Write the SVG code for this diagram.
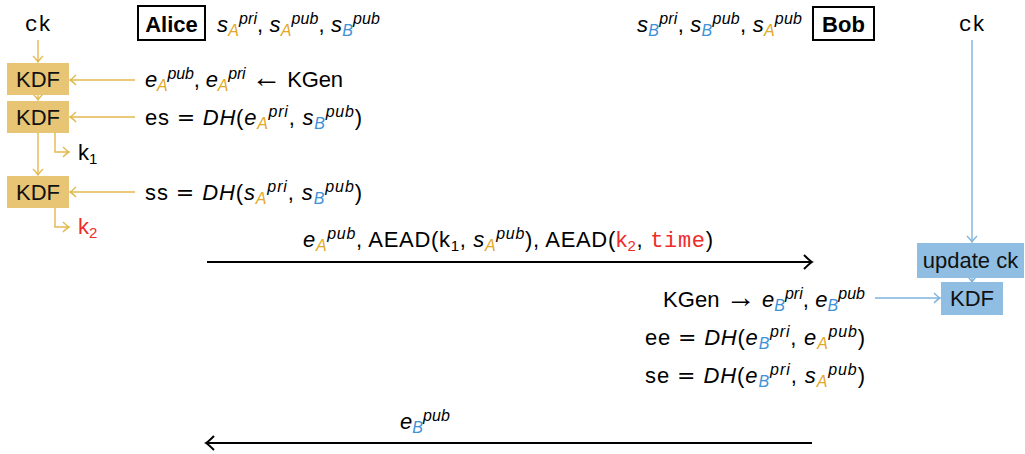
<svg xmlns="http://www.w3.org/2000/svg" width="1025" height="454" viewBox="0 0 1025 454">
  <style>
    .m { font-family: "Liberation Sans", Arial, sans-serif; font-size: 22px; fill: #000; }
    .tt { font-family: "Liberation Mono", "Courier New", monospace; }
    .op { font-family: "DejaVu Sans", sans-serif; }
    .arr { font-family: "Liberation Sans", Arial, sans-serif; font-size: 30px; }
    .v { font-style: italic; }
    .sp { font-size: 16px; font-style: italic; }
    .sa { font-size: 16px; font-style: italic; fill: #e2a826; }
    .sb { font-size: 16px; font-style: italic; fill: #3d92d8; }
    .sn { font-size: 15px; }
    .red { fill: #ee2c2c; }
    .lbl { font-family: "Liberation Sans", Arial, sans-serif; font-size: 22px; fill: #111; text-anchor: middle; }
    .who { font-family: "Liberation Sans", Arial, sans-serif; font-size: 22px; font-weight: bold; text-anchor: middle; }
    .gbox { fill: #e7c574; }
    .bbox { fill: #8fbee2; }
    .gline { fill: none; stroke: #e3b94e; stroke-width: 1.4; }
    .bline { fill: none; stroke: #7cb4e0; stroke-width: 1.4; }
    .kline { fill: none; stroke: #000; stroke-width: 2; }
  </style>
  <defs>
    <marker id="tipG" viewBox="-8 -6 10 12" refX="0" refY="0" markerWidth="10" markerHeight="12" orient="auto" markerUnits="userSpaceOnUse">
      <path d="M-6,-5 Q-2,-1 0,0 Q-2,1 -6,5" fill="none" stroke="#e3b94e" stroke-width="1.4"/>
    </marker>
    <marker id="tipB" viewBox="-8 -6 10 12" refX="0" refY="0" markerWidth="10" markerHeight="12" orient="auto" markerUnits="userSpaceOnUse">
      <path d="M-6,-5 Q-2,-1 0,0 Q-2,1 -6,5" fill="none" stroke="#7cb4e0" stroke-width="1.4"/>
    </marker>
    <marker id="tipK" viewBox="-11 -9 13 18" refX="0" refY="0" markerWidth="13" markerHeight="18" orient="auto" markerUnits="userSpaceOnUse">
      <path d="M-8,-7 Q-2.5,-1.5 0,0 Q-2.5,1.5 -8,7" fill="none" stroke="#000" stroke-width="2"/>
    </marker>
  </defs>

  <!-- connectors -->
  <g id="connectors">
    <!-- Alice key schedule -->
    <path class="gline" d="M38,40 V62" marker-end="url(#tipG)"/>
    <path class="gline" d="M38,95 V100" marker-end="url(#tipG)"/>
    <path class="gline" d="M38,133 V175" marker-end="url(#tipG)"/>
    <path class="gline" d="M55,133 V152 H69" marker-end="url(#tipG)"/>
    <path class="gline" d="M55,208 V227 H69" marker-end="url(#tipG)"/>
    <path class="gline" d="M135,80 H70" marker-end="url(#tipG)"/>
    <path class="gline" d="M135,117 H70" marker-end="url(#tipG)"/>
    <path class="gline" d="M135,192 H70" marker-end="url(#tipG)"/>
    <!-- Bob key schedule -->
    <path class="bline" d="M972,40 V242" marker-end="url(#tipB)"/>
    <path class="bline" d="M972,278 V282" marker-end="url(#tipB)"/>
    <path class="bline" d="M875,298 H940" marker-end="url(#tipB)"/>
    <!-- messages -->
    <path class="kline" d="M207,262 H812" marker-end="url(#tipK)"/>
    <path class="kline" d="M812,443 H206" marker-end="url(#tipK)"/>
  </g>

  <!-- Alice -->
  <g id="alice">
    <rect x="138" y="6" width="67" height="34" fill="#fff" stroke="#000" stroke-width="2"/>
    <text class="who" x="171.5" y="32">Alice</text>
    <text class="m" x="217" y="32" textLength="163" lengthAdjust="spacing"><tspan class="v">s</tspan><tspan class="sa" dy="4">A</tspan><tspan class="sp" dy="-12">pri</tspan><tspan dy="8">, </tspan><tspan class="v">s</tspan><tspan class="sa" dy="4">A</tspan><tspan class="sp" dy="-12">pub</tspan><tspan dy="8">, </tspan><tspan class="v">s</tspan><tspan class="sb" dy="4">B</tspan><tspan class="sp" dy="-12">pub</tspan></text>
  </g>

  <!-- Bob -->
  <g id="bob">
    <rect x="813" y="7" width="61" height="33" fill="#fff" stroke="#000" stroke-width="2"/>
    <text class="who" x="843.5" y="32">Bob</text>
    <text class="m" x="637" y="32" textLength="165" lengthAdjust="spacing"><tspan class="v">s</tspan><tspan class="sb" dy="4">B</tspan><tspan class="sp" dy="-12">pri</tspan><tspan dy="8">, </tspan><tspan class="v">s</tspan><tspan class="sb" dy="4">B</tspan><tspan class="sp" dy="-12">pub</tspan><tspan dy="8">, </tspan><tspan class="v">s</tspan><tspan class="sa" dy="4">A</tspan><tspan class="sp" dy="-12">pub</tspan></text>
  </g>

  <!-- chaining keys -->
  <g id="ck-alice">
    <text class="m tt" x="38" y="31" text-anchor="middle" font-size="20">ck</text>
  </g>
  <g id="ck-bob">
    <text class="m tt" x="972" y="31" text-anchor="middle" font-size="20">ck</text>
  </g>

  <!-- Alice KDF chain -->
  <g id="kdf-a1">
    <rect class="gbox" x="7" y="63" width="62" height="32"/>
    <text class="lbl" x="38" y="87">KDF</text>
  </g>
  <g id="kdf-a2">
    <rect class="gbox" x="7" y="101" width="62" height="32"/>
    <text class="lbl" x="38" y="125">KDF</text>
  </g>
  <g id="kdf-a3">
    <rect class="gbox" x="7" y="176" width="62" height="32"/>
    <text class="lbl" x="38" y="200">KDF</text>
  </g>
  <g id="k1">
    <text class="m" x="78" y="160">k<tspan class="sn" dy="4">1</tspan></text>
  </g>
  <g id="k2">
    <text class="m red" x="78" y="234">k<tspan class="sn" dy="4">2</tspan></text>
  </g>

  <!-- Alice inputs -->
  <g id="alice-eph">
    <text class="m" x="145" y="87" textLength="198" lengthAdjust="spacing"><tspan class="v">e</tspan><tspan class="sa" dy="4">A</tspan><tspan class="sp" dy="-12">pub</tspan><tspan dy="8">, </tspan><tspan class="v">e</tspan><tspan class="sa" dy="4">A</tspan><tspan class="sp" dy="-12">pri</tspan><tspan dy="8"> </tspan><tspan class="arr">←</tspan> KGen</text>
  </g>
  <g id="alice-es">
    <text class="m" x="145" y="125" textLength="217" lengthAdjust="spacing">es <tspan class="op">=</tspan> <tspan class="v">DH</tspan>(<tspan class="v">e</tspan><tspan class="sa" dy="4">A</tspan><tspan class="sp" dy="-12">pri</tspan><tspan dy="8">, </tspan><tspan class="v">s</tspan><tspan class="sb" dy="4">B</tspan><tspan class="sp" dy="-12">pub</tspan><tspan dy="8">)</tspan></text>
  </g>
  <g id="alice-ss">
    <text class="m" x="145" y="200" textLength="217" lengthAdjust="spacing">ss <tspan class="op">=</tspan> <tspan class="v">DH</tspan>(<tspan class="v">s</tspan><tspan class="sa" dy="4">A</tspan><tspan class="sp" dy="-12">pri</tspan><tspan dy="8">, </tspan><tspan class="v">s</tspan><tspan class="sb" dy="4">B</tspan><tspan class="sp" dy="-12">pub</tspan><tspan dy="8">)</tspan></text>
  </g>

  <!-- first message -->
  <g id="msg1">
    <text class="m" x="303" y="247" textLength="410" lengthAdjust="spacing"><tspan class="v">e</tspan><tspan class="sa" dy="4">A</tspan><tspan class="sp" dy="-12">pub</tspan><tspan dy="8">, AEAD(k</tspan><tspan class="sn" dy="4">1</tspan><tspan dy="-4">, </tspan><tspan class="v">s</tspan><tspan class="sa" dy="4">A</tspan><tspan class="sp" dy="-12">pub</tspan><tspan dy="8">), AEAD(</tspan><tspan class="red">k</tspan><tspan class="sn red" dy="4">2</tspan><tspan dy="-4">, </tspan><tspan class="tt red">time</tspan>)</text>
  </g>

  <!-- Bob KDF chain -->
  <g id="update-ck">
    <rect class="bbox" x="917" y="243" width="107" height="35"/>
    <text class="lbl" x="970.5" y="268" font-size="21">update ck</text>
  </g>
  <g id="kdf-b">
    <rect class="bbox" x="941" y="282" width="62" height="33"/>
    <text class="lbl" x="972" y="306">KDF</text>
  </g>

  <!-- Bob computations -->
  <g id="bob-eph">
    <text class="m" x="663" y="307" textLength="202" lengthAdjust="spacing">KGen <tspan class="arr">→</tspan> <tspan class="v">e</tspan><tspan class="sb" dy="4">B</tspan><tspan class="sp" dy="-12">pri</tspan><tspan dy="8">, </tspan><tspan class="v">e</tspan><tspan class="sb" dy="4">B</tspan><tspan class="sp" dy="-12">pub</tspan></text>
  </g>
  <g id="bob-ee">
    <text class="m" x="645" y="345" textLength="220" lengthAdjust="spacing">ee <tspan class="op">=</tspan> <tspan class="v">DH</tspan>(<tspan class="v">e</tspan><tspan class="sb" dy="4">B</tspan><tspan class="sp" dy="-12">pri</tspan><tspan dy="8">, </tspan><tspan class="v">e</tspan><tspan class="sa" dy="4">A</tspan><tspan class="sp" dy="-12">pub</tspan><tspan dy="8">)</tspan></text>
  </g>
  <g id="bob-se">
    <text class="m" x="645" y="383" textLength="220" lengthAdjust="spacing">se <tspan class="op">=</tspan> <tspan class="v">DH</tspan>(<tspan class="v">e</tspan><tspan class="sb" dy="4">B</tspan><tspan class="sp" dy="-12">pri</tspan><tspan dy="8">, </tspan><tspan class="v">s</tspan><tspan class="sa" dy="4">A</tspan><tspan class="sp" dy="-12">pub</tspan><tspan dy="8">)</tspan></text>
  </g>

  <!-- reply message -->
  <g id="msg2">
    <text class="m" x="400" y="429" textLength="50" lengthAdjust="spacing"><tspan class="v">e</tspan><tspan class="sb" dy="4">B</tspan><tspan class="sp" dy="-12">pub</tspan></text>
  </g>
</svg>
